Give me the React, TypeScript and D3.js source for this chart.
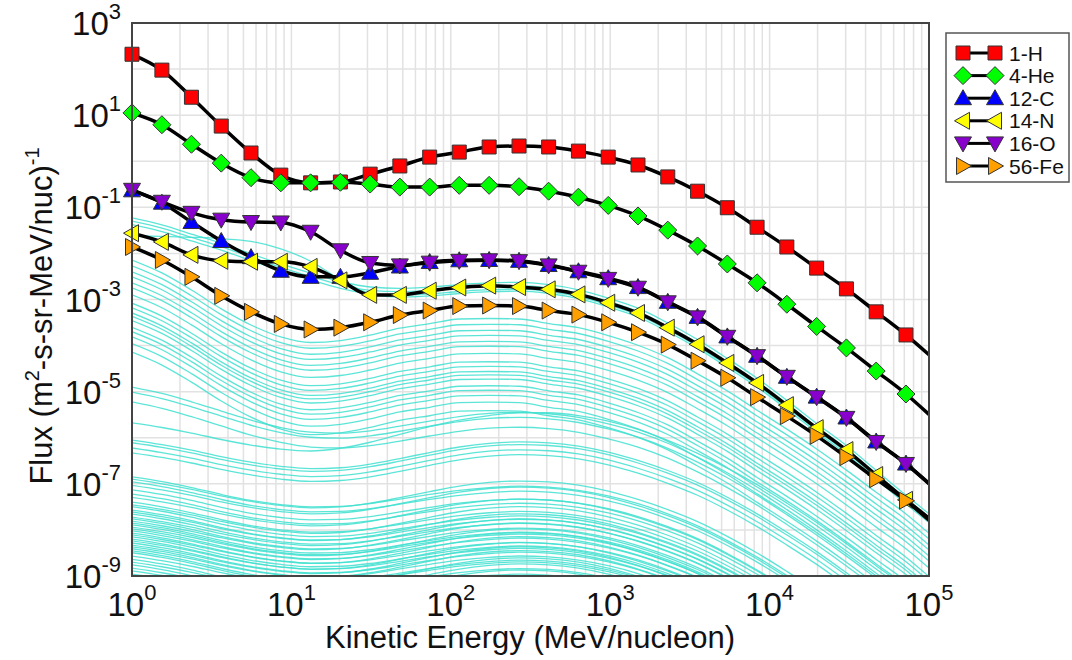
import React from "react";
import * as d3 from "d3";

// ---------- DATA ----------
const energies = [1, 1.54, 2.36, 3.63, 5.58, 8.58, 13.2, 20.3, 31.2, 47.9, 73.7, 113, 174, 268, 411, 632, 972, 1494, 2297, 3532, 5429, 8346, 12830, 19730, 30330, 46630, 71700, 100000];

const hFlux = [2.1e2, 95, 24.5, 5.8, 1.51, 0.5, 0.34, 0.355, 0.525, 0.79, 1.23, 1.58, 2.04, 2.14, 2.04, 1.66, 1.23, 0.83, 0.457, 0.224, 0.098, 0.037, 0.0138, 4.8e-3, 1.7e-3, 5.4e-4, 1.7e-4, 6.3e-5];
const heFlux = [11.2, 6.2, 2.34, 0.91, 0.44, 0.34, 0.34, 0.35, 0.32, 0.275, 0.275, 0.3, 0.3, 0.28, 0.224, 0.166, 0.11, 0.065, 0.032, 0.0145, 5.9e-3, 2.3e-3, 7.9e-4, 2.6e-4, 8.9e-5, 2.8e-5, 8.9e-6, 3.2e-6];
const cFlux = [0.234, 0.126, 0.048, 0.0186, 8.3e-3, 4.2e-3, 3.1e-3, 3.1e-3, 3.8e-3, 5.2e-3, 6.5e-3, 7.1e-3, 7.2e-3, 6.9e-3, 5.6e-3, 4.1e-3, 2.9e-3, 1.86e-3, 8.9e-4, 4.2e-4, 1.58e-4, 6.0e-5, 2.1e-5, 7.8e-6, 2.75e-6, 8.3e-7, 2.75e-7, 1.02e-7];
const nFlux = [0.0275, 0.0178, 9.3e-3, 6.9e-3, 6.6e-3, 6.6e-3, 5.1e-3, 2.6e-3, 1.26e-3, 1.26e-3, 1.55e-3, 1.82e-3, 2.0e-3, 1.86e-3, 1.66e-3, 1.29e-3, 8.5e-4, 5.1e-4, 2.45e-4, 1.07e-4, 4.2e-5, 1.55e-5, 5.1e-6, 1.62e-6, 5.4e-7, 1.55e-7, 4.5e-8, 1.8e-8];
const oFlux = [0.24, 0.132, 0.076, 0.054, 0.048, 0.047, 0.0295, 0.0117, 6.2e-3, 5.5e-3, 6.3e-3, 6.9e-3, 7.1e-3, 6.8e-3, 5.5e-3, 4.0e-3, 2.8e-3, 1.8e-3, 8.7e-4, 4.1e-4, 1.55e-4, 5.9e-5, 2.1e-5, 7.6e-6, 2.7e-6, 8.1e-7, 2.7e-7, 1.0e-7];
const feFlux = [0.0138, 7.2e-3, 3.1e-3, 1.2e-3, 5.4e-4, 2.95e-4, 2.24e-4, 2.45e-4, 3.2e-4, 4.6e-4, 5.75e-4, 7.2e-4, 7.4e-4, 7.2e-4, 5.75e-4, 4.7e-4, 3.2e-4, 1.95e-4, 1.05e-4, 4.7e-5, 2.0e-5, 7.6e-6, 2.95e-6, 1.1e-6, 3.8e-7, 1.26e-7, 4.3e-8, 1.62e-8];

const seriesNames = ["1-H", "4-He", "12-C", "14-N", "16-O", "56-Fe"];
const seriesColors = ["#ff0000", "#00ff00", "#0000ff", "#ffff00", "#8800cc", "#ffa000"];

// Spectral shapes of the other nuclei (decades relative to the 1 MeV/nuc value)
const shapeU = [0, -0.15, -0.35, -0.55, -0.78, -1.0, -1.2, -1.38, -1.5, -1.53, -1.5, -1.45, -1.41, -1.4, -1.45, -1.56, -1.74, -1.96, -2.28, -2.64, -3.05, -3.48, -3.96, -4.46, -4.94, -5.48, -6.02, -6.42];
const shapeS = [0, -0.01, -0.03, -0.06, -0.12, -0.28, -0.55, -0.95, -1.25, -1.33, -1.3, -1.25, -1.21, -1.2, -1.25, -1.36, -1.54, -1.76, -2.08, -2.44, -2.85, -3.28, -3.76, -4.26, -4.74, -5.28, -5.82, -6.22];
const shapeF = [0, -0.28, -0.65, -1.06, -1.41, -1.67, -1.79, -1.75, -1.63, -1.48, -1.38, -1.28, -1.27, -1.28, -1.38, -1.47, -1.64, -1.85, -2.12, -2.47, -2.84, -3.26, -3.67, -4.1, -4.56, -5.04, -5.51, -5.93];
const shapeM = [0, -0.14, -0.32, -0.52, -0.72, -0.88, -0.98, -1.0, -0.95, -0.85, -0.74, -0.64, -0.57, -0.55, -0.58, -0.66, -0.8, -0.98, -1.22, -1.52, -1.86, -2.24, -2.66, -3.1, -3.56, -4.04, -4.52, -4.96];
const shapeLP = [0, -0.1, -0.22, -0.36, -0.48, -0.57, -0.61, -0.55, -0.42, -0.25, -0.08, 0.06, 0.16, 0.22, 0.22, 0.16, 0.04, -0.14, -0.38, -0.66, -0.98, -1.34, -1.74, -2.16, -2.62, -3.1, -3.58, -4.02];
const shapeL = [0, -0.1, -0.22, -0.36, -0.48, -0.57, -0.62, -0.6, -0.52, -0.4, -0.27, -0.15, -0.07, -0.04, -0.06, -0.13, -0.26, -0.44, -0.66, -0.92, -1.24, -1.6, -2.0, -2.42, -2.88, -3.36, -3.84, -4.28];
const shapeL2 = [0, -0.1, -0.23, -0.38, -0.51, -0.6, -0.65, -0.64, -0.58, -0.48, -0.38, -0.29, -0.23, -0.2, -0.22, -0.29, -0.41, -0.58, -0.8, -1.06, -1.38, -1.74, -2.14, -2.56, -3.02, -3.5, -3.98, -4.42];

const cyanLevels = [
  5.9e-2, 5.0e-2, 4.2e-2,
  2.4e-2,
  7.2e-3, 5.4e-3, 4.0e-3, 3.1e-3, 2.3e-3, 1.8e-3, 1.26e-3, 8.3e-4, 6.6e-4, 5.1e-4, 4.3e-4, 3.5e-4, 2.5e-4, 2.0e-4, 1.55e-4, 1.1e-4, 7.2e-5,
  1.26e-5, 9.8e-6, 6.0e-6,
  2.1e-6,
  8.9e-7, 7.8e-7, 6.0e-7, 4.7e-7,
  1.41e-7, 1.26e-7, 1.1e-7, 9.3e-8, 7.4e-8, 6.0e-8, 5.1e-8, 4.0e-8, 3.5e-8, 3.2e-8, 2.7e-8, 2.45e-8, 2.2e-8, 1.9e-8, 1.74e-8, 1.55e-8, 1.41e-8, 1.29e-8, 1.15e-8, 1.05e-8,
  9.5e-9, 8.5e-9, 7.8e-9, 7.1e-9, 6.3e-9, 5.8e-9, 5.2e-9, 4.7e-9, 4.3e-9, 3.9e-9, 3.5e-9, 3.2e-9, 2.7e-9, 2.3e-9, 2.0e-9, 1.74e-9, 1.48e-9, 1.29e-9, 1.1e-9, 9.5e-10,
];
const cyanShapeIds = [
  "U", "U", "U",
  "S",
  "F", "F", "F", "F", "F", "F", "F", "F", "F", "F", "F", "F", "F", "F", "F", "F", "F",
  "M", "M", "M",
  "LP",
  "L", "L", "L", "L",
  "L2", "L", "L2", "L", "L2", "L2", "L", "L2", "L", "L2", "L2", "L", "L2", "L", "L2", "L", "L2", "L2", "L", "L2",
  "L", "L2", "L", "L2", "L2", "L", "L2", "L", "L2", "L", "L2", "L2", "L", "L2", "L", "L2", "L", "L2", "L", "L2",
];

const xTickExps = [0, 1, 2, 3, 4, 5];
const yTickExps = [3, 1, -1, -3, -5, -7, -9];

// ---------- LAYOUT ----------
const W = 1072;
const H = 660;
const left = 132, right = 929, top = 23, bottom = 576;

const x = d3.scaleLog().domain([1, 1e5]).range([left, right]);
const y = d3.scaleLog().domain([1e-9, 1e3]).range([bottom, top]);

const shapeMap: Record<string, number[]> = { U: shapeU, S: shapeS, F: shapeF, M: shapeM, LP: shapeLP, L: shapeL, L2: shapeL2 };

const markerPaths = [
  "M-7,-7h14v14h-14z",
  "M0,-9L9,0L0,9L-9,0Z",
  "M0,-8.5L8.5,6.5L-8.5,6.5Z",
  "M-8.5,0L6.5,-8.5L6.5,8.5Z",
  "M0,8.5L8.5,-6.5L-8.5,-6.5Z",
  "M8.5,0L-6.5,-8.5L-6.5,8.5Z",
];

const allSeries = [hFlux, heFlux, cFlux, nFlux, oFlux, feFlux];

const line = d3
  .line<[number, number]>()
  .x((d) => x(d[0]))
  .y((d) => y(d[1]))
  .curve(d3.curveMonotoneX);

export default function App() {
  const vGrid: number[] = [];
  for (let k = 0; k < 5; k++) for (let m = 1; m < 10; m++) vGrid.push(m * Math.pow(10, k));
  vGrid.push(1e5);
  const hGrid: number[] = [];
  for (let k = -9; k <= 3; k++) hGrid.push(Math.pow(10, k));

  const cyanPaths = cyanLevels.map((lvl, i) => {
    const shp = shapeMap[cyanShapeIds[i]];
    const pts: [number, number][] = energies.map((e, j) => [e, lvl * Math.pow(10, shp[j])]);
    return line(pts) as string;
  });

  const font = "'Liberation Sans', Arial, Helvetica, sans-serif";

  return (
    <svg width={W} height={H} style={{ position: "absolute", left: 0, top: 0, background: "#fff" }} fontFamily={font}>
      <defs>
        <clipPath id="plotClip">
          <rect x={left} y={top} width={right - left} height={bottom - top} />
        </clipPath>
      </defs>
      <rect x={0} y={0} width={W} height={H} fill="#fff" />
      {/* grid */}
      <g stroke="#e2e2e2" strokeWidth={1.5}>
        {vGrid.map((v, i) => (
          <line key={"v" + i} x1={x(v)} x2={x(v)} y1={top} y2={bottom} />
        ))}
        {hGrid.map((v, i) => (
          <line key={"h" + i} x1={left} x2={right} y1={y(v)} y2={y(v)} />
        ))}
      </g>
      {/* other nuclei */}
      <g clipPath="url(#plotClip)" fill="none" stroke="#40e0d0" strokeWidth={1.3} strokeOpacity={0.85}>
        {cyanPaths.map((d, i) => (
          <path key={"c" + i} d={d} />
        ))}
      </g>
      {/* main series */}
      {allSeries.map((vals, si) => {
        const pts: [number, number][] = energies.map((e, j) => [e, vals[j]]);
        return (
          <g key={"s" + si}>
            <path d={line(pts) as string} fill="none" stroke="#000" strokeWidth={3.5} clipPath="url(#plotClip)" />
            {pts.slice(0, pts.length - 1).map((p, j) => (
              <path
                key={j}
                d={markerPaths[si]}
                transform={`translate(${x(p[0])},${y(p[1])})`}
                fill={seriesColors[si]}
                stroke="#333"
                strokeWidth={1}
              />
            ))}
          </g>
        );
      })}
      {/* frame */}
      <rect x={left} y={top} width={right - left} height={bottom - top} fill="none" stroke="#444" strokeWidth={2} />
      {/* x tick labels */}
      {xTickExps.map((e) => (
        <text key={"xt" + e} x={x(Math.pow(10, e))} y={616} textAnchor="middle" fontSize={33} fill="#111">
          10
          <tspan dy={-16} fontSize={22}>
            {e}
          </tspan>
        </text>
      ))}
      {/* y tick labels */}
      {yTickExps.map((e) => (
        <text key={"yt" + e} x={121} y={y(Math.pow(10, e)) + 12} textAnchor="end" fontSize={33} fill="#111">
          10
          <tspan dy={-16} fontSize={22}>
            {e}
          </tspan>
        </text>
      ))}
      {/* axis titles */}
      <text x={530} y={648} textAnchor="middle" fontSize={31} fill="#111">
        Kinetic Energy (MeV/nucleon)
      </text>
      <text transform={`translate(52,316) rotate(-90)`} textAnchor="middle" fontSize={31} fill="#111">
        Flux (m
        <tspan dy={-13} fontSize={20}>
          2
        </tspan>
        <tspan dy={13}>-s-sr-MeV/nuc)</tspan>
        <tspan dy={-13} fontSize={20}>
          -1
        </tspan>
      </text>
      {/* legend */}
      <g>
        <rect x={946} y={33} width={123} height={149} fill="#fff" stroke="#555" strokeWidth={1.5} />
        {seriesNames.map((nm, i) => {
          const ly = 53 + i * 22.6;
          return (
            <g key={"lg" + i}>
              <line x1={963} x2={995} y1={ly} y2={ly} stroke="#000" strokeWidth={3} />
              <path d={markerPaths[i]} transform={`translate(963,${ly})`} fill={seriesColors[i]} stroke="#333" strokeWidth={1} />
              <path d={markerPaths[i]} transform={`translate(995,${ly})`} fill={seriesColors[i]} stroke="#333" strokeWidth={1} />
              <text x={1009} y={ly + 7.5} fontSize={21} fill="#111">
                {nm}
              </text>
            </g>
          );
        })}
      </g>
    </svg>
  );
}
